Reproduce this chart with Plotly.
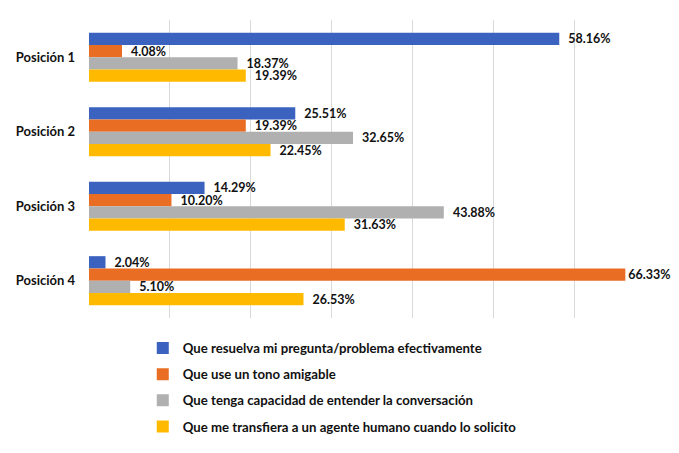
import plotly.graph_objects as go

categories = ["Posición 1", "Posición 2", "Posición 3", "Posición 4"]
series_names = [
    "Que resuelva mi pregunta/problema efectivamente",
    "Que use un tono amigable",
    "Que tenga capacidad de entender la conversación",
    "Que me transfiera a un agente humano cuando lo solicito",
]
resuelva = [58.16, 25.51, 14.29, 2.04]
tono = [4.08, 19.39, 10.20, 66.33]
entender = [18.37, 32.65, 43.88, 5.10]
transfiera = [19.39, 22.45, 31.63, 26.53]
colors = ["#3A62BE", "#E96E24", "#B0B0B0", "#FFBA00"]

values = [resuelva, tono, entender, transfiera]
font_family = "Lato, 'Open Sans', sans-serif"
x_max = 70

fig = go.Figure()
for i, (name, vals, col) in enumerate(zip(series_names, values, colors)):
    # labels near the right edge sit flush against the bar end
    labels = [(f"{v:.2f}%" if v > x_max - 8 else f"  {v:.2f}%") for v in vals]
    fig.add_trace(go.Bar(
        y=categories, x=vals, name=name, orientation="h",
        marker=dict(color=col, line=dict(width=0)),
        text=labels, textposition="outside",
        constraintext="none",
        textfont=dict(family=font_family, size=12.5, color="#111111", weight="bold"),
        cliponaxis=False, legendgroup=f"g{i}",
    ))

fig.update_layout(
    width=679, height=453,
    barmode="group", bargap=0.34, bargroupgap=0,
    paper_bgcolor="white", plot_bgcolor="white",
    margin=dict(l=81, r=32, t=12, b=143, autoexpand=False),
    font=dict(family=font_family, size=12, color="#111111"),
    showlegend=True,
    legend=dict(
        x=0.095, y=-0.05, xanchor="left", yanchor="top",
        orientation="v", tracegroupgap=6,
        font=dict(family=font_family, size=13.2, color="#111111", weight="bold"),
        itemwidth=30,
    ),
)
fig.update_xaxes(range=[0, x_max], dtick=10, showticklabels=False,
                 showgrid=True, gridcolor="#D9D9D9", gridwidth=1,
                 zeroline=False, showline=False, automargin=False)
fig.update_yaxes(autorange="reversed", showgrid=False, showline=False,
                 ticks="", ticklabelstandoff=13, automargin=False,
                 tickfont=dict(family=font_family, size=13, color="#111111", weight="bold"))

fig.write_html("out.html")
